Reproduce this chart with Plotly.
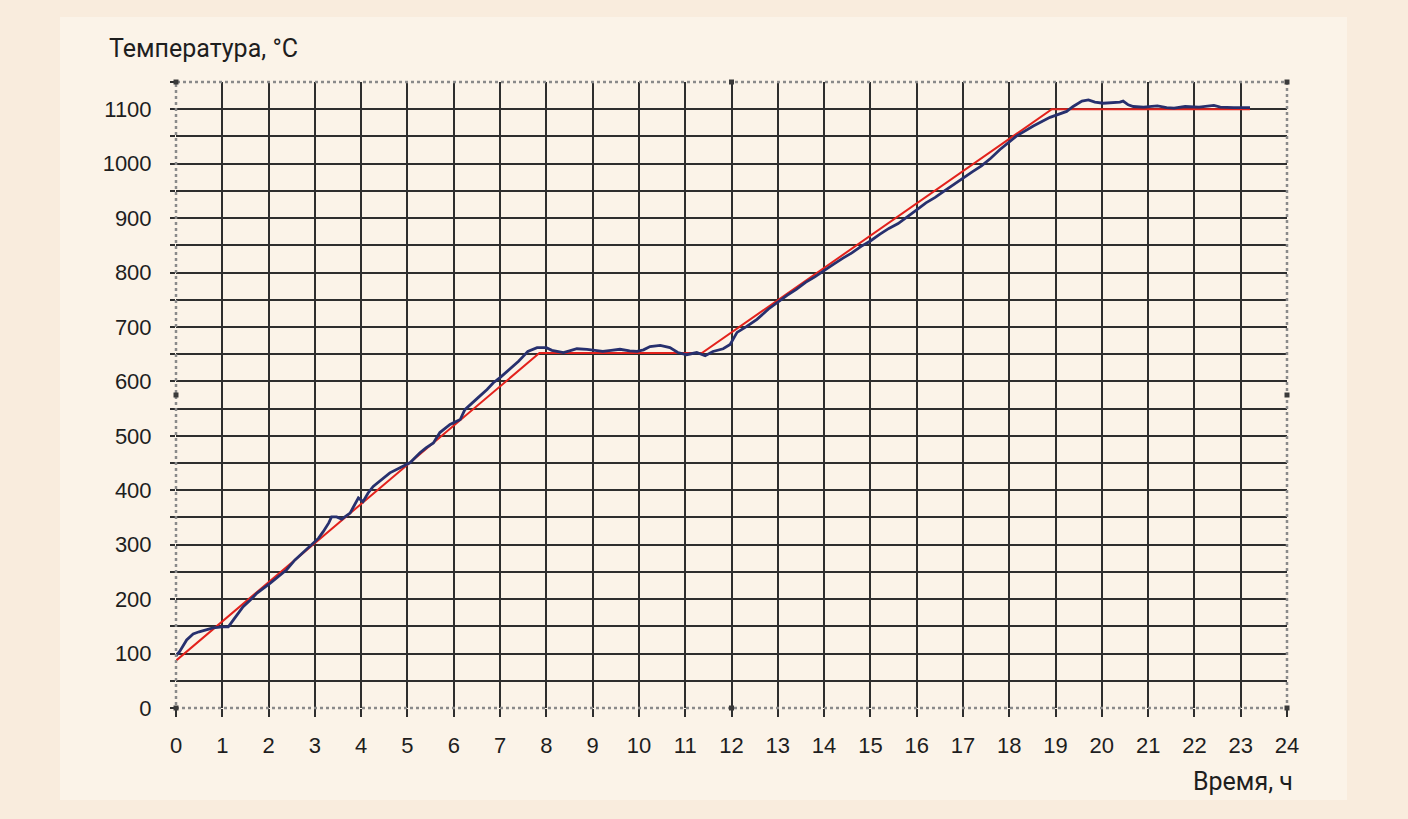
import plotly.graph_objects as go

# ---- data ----
setpoint_hours = [0.0, 7.85, 11.36, 18.92, 23.2]
setpoint_temp = [87, 652, 652, 1100, 1100]

actual_hours = [0.0, 0.08, 0.23, 0.37, 0.5, 0.59, 0.8, 1.0, 1.13, 1.24, 1.45, 1.6, 1.75, 2.03, 2.2,
                2.39, 2.57, 2.68, 2.8, 2.96, 3.08, 3.18, 3.3, 3.36, 3.47, 3.58, 3.76, 3.85, 3.94,
                4.04, 4.15, 4.26, 4.45, 4.62, 4.85, 5.06, 5.27, 5.4, 5.56, 5.7, 5.92, 6.14, 6.24,
                6.42, 6.55, 6.72, 6.85, 7.0, 7.15, 7.28, 7.4, 7.5, 7.6, 7.8, 8.0, 8.12, 8.23, 8.37,
                8.5, 8.66, 8.88, 9.0, 9.22, 9.4, 9.59, 9.8, 9.96, 10.1, 10.24, 10.46, 10.67, 10.84,
                11.03, 11.25, 11.43, 11.6, 11.82, 11.97, 12.12, 12.33, 12.55, 12.8, 13.0, 13.2,
                13.4, 13.6, 13.8, 14.0, 14.2, 14.4, 14.6, 14.8, 15.0, 15.2, 15.4, 15.6, 15.8,
                16.0, 16.2, 16.4, 16.6, 16.8, 17.0, 17.2, 17.4, 17.6, 17.8, 18.16, 18.52, 18.88,
                19.24, 19.38, 19.57, 19.71, 19.85, 20.03, 20.39, 20.46, 20.57, 20.68, 20.9, 21.2,
                21.4, 21.56, 21.8, 22.1, 22.42, 22.56, 22.85, 23.2]
actual_temp = [96, 104, 125, 136, 140, 142, 147, 149, 149, 162, 186, 198, 211, 229, 240,
               254, 272, 281, 290, 303, 312, 324, 340, 351, 351, 347, 358, 372, 386,
               379, 395, 407, 420, 432, 442, 451, 469, 478, 487, 506, 521, 530, 548,
               563, 572, 585, 597, 607, 618, 628, 637, 646, 655, 662, 662, 657, 655, 653,
               656, 660, 659, 658, 655, 657, 659, 656, 655, 658, 664, 666, 662, 653,
               649, 653, 647, 655, 660, 668, 690, 701, 714, 733, 746, 758,
               769, 782, 792, 804, 815, 826, 836, 848, 858, 870, 881, 890, 902,
               915, 928, 938, 950, 962, 973, 985, 996, 1010, 1026, 1051, 1069, 1085,
               1096, 1105, 1115, 1117, 1113, 1111, 1113, 1115, 1108, 1105, 1104, 1106,
               1103, 1102, 1105, 1104, 1107, 1104, 1103, 1103]

x_ticks = list(range(0, 25))
y_ticks = list(range(0, 1101, 100))

y_title = "Температура, °С"
x_title = "Время, ч"

OUTER_BG = "#f9ecdd"
INNER_BG = "#fbf3e8"
TEXT = "#1e1e1e"
GRID = "#2e2e2e"
NUM_FONT = "Liberation Sans, Arial, sans-serif"
TITLE_FONT = "Roboto, Liberation Sans Narrow, sans-serif"

fig = go.Figure()
fig.add_trace(go.Scatter(x=setpoint_hours, y=setpoint_temp, mode="lines",
                         line=dict(color="#e3221c", width=2), hoverinfo="skip"))
fig.add_trace(go.Scatter(x=actual_hours, y=actual_temp, mode="lines",
                         line=dict(color="#27306e", width=2.8), hoverinfo="skip"))

# small selection handles on the plot frame (paper coords)
handle_pts = [(0, 0), (0, 0.5), (0, 1), (0.5, 1), (1, 1), (1, 0.5), (1, 0), (0.5, 0)]
hx, hy = 2.5 / 1111, 2.5 / 626
handles = [dict(type="rect", xref="paper", yref="paper", x0=px - hx, x1=px + hx,
                y0=py - hy, y1=py + hy, fillcolor="#3a3a3a", line=dict(width=0), layer="above")
           for px, py in handle_pts]

fig.update_layout(
    width=1408, height=819,
    margin=dict(l=176, r=121, t=82, b=111),
    paper_bgcolor=OUTER_BG,
    plot_bgcolor="white",
    showlegend=False,
    xaxis=dict(range=[0, 24], tickvals=x_ticks, ticktext=[str(v) for v in x_ticks],
               showgrid=True, gridcolor=GRID, gridwidth=1.7, zeroline=False,
               ticks="outside", ticklen=8, tickwidth=1.5, tickcolor=GRID,
               ticklabelstandoff=10,
               tickfont=dict(family=NUM_FONT, size=22, color=TEXT),
               showline=False, fixedrange=True),
    yaxis=dict(range=[0, 1150], tickvals=y_ticks, ticktext=[str(v) for v in y_ticks],
               showgrid=True, gridcolor=GRID, gridwidth=1.7, zeroline=False,
               ticks="outside", ticklen=5, tickwidth=1.5, tickcolor=GRID,
               ticklabelstandoff=14,
               minor=dict(dtick=50, showgrid=True, gridcolor=GRID, gridwidth=1.7,
                          ticks="outside", ticklen=5, tickcolor=GRID),
               tickfont=dict(family=NUM_FONT, size=22, color=TEXT),
               showline=False, fixedrange=True),
    shapes=[
        dict(type="rect", xref="paper", yref="paper", x0=-0.1044, x1=1.054, y0=-0.147, y1=1.104,
             fillcolor=INNER_BG, line=dict(width=0), layer="below"),
        dict(type="rect", xref="paper", yref="paper", x0=0, x1=1, y0=0, y1=1,
             fillcolor="rgba(0,0,0,0)", line=dict(color="#8a8a8a", width=2.5, dash="dot"),
             layer="above"),
    ] + handles,
    annotations=[
        dict(text=y_title, xref="paper", yref="paper", x=-0.0621, y=1.054,
             xanchor="left", yanchor="middle", showarrow=False,
             font=dict(family=TITLE_FONT, size=25, color=TEXT)),
        dict(text=x_title, xref="paper", yref="paper", x=1.0072, y=-0.118,
             xanchor="right", yanchor="middle", showarrow=False,
             font=dict(family=TITLE_FONT, size=25, color=TEXT)),
    ],
)

fig.write_html("out.html", config={"displayModeBar": False},
               post_script="document.body.style.margin='0';document.body.style.padding='0';")
